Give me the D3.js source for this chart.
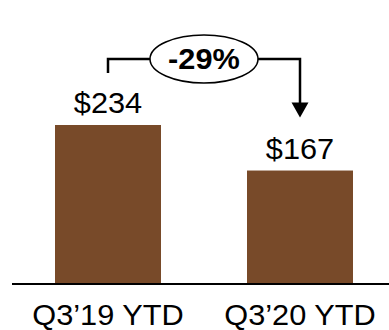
<!DOCTYPE html>
<html>
<head>
<meta charset="utf-8">
<script src="https://cdn.jsdelivr.net/npm/d3@7"></script>
<style>
  html, body { margin: 0; padding: 0; background: #fff; }
  svg { display: block; font-family: "Liberation Sans", Arial, sans-serif; }
</style>
</head>
<body>
<svg id="chart" width="389" height="330"></svg>
<script>
// Year-to-date totals by period
const categories = ["Q3\u201919 YTD", "Q3\u201920 YTD"];
const values = [234, 167];
const valueLabels = ["$234", "$167"];
const changeLabel = "-29%";

const svg = d3.select("#chart");
const barColor = "#784A29";

const x = d3.scaleBand()
  .domain(categories)
  .range([12, 396])
  .paddingInner(0.448)
  .paddingOuter(0.224);

const y = d3.scaleLinear()
  .domain([0, 234])
  .range([284, 125]);

// Bars
svg.selectAll("rect.bar")
  .data(values)
  .join("rect")
  .attr("class", "bar")
  .attr("x", (d, i) => x(categories[i]))
  .attr("y", d => y(d))
  .attr("width", x.bandwidth())
  .attr("height", d => y(0) - y(d))
  .attr("fill", barColor);

// Baseline
svg.append("line")
  .attr("x1", 12).attr("x2", 389)
  .attr("y1", y(0)).attr("y2", y(0))
  .attr("stroke", "#000").attr("stroke-width", 2);

// Slightly widened glyphs, scaled about each label's anchor
function widen(sel, cxFn, k) {
  sel.attr("transform", (d, i) => {
    const c = cxFn(d, i);
    return `translate(${c},0) scale(${k},1) translate(${-c},0)`;
  });
}

// Value labels above bars
const valueText = svg.selectAll("text.value")
  .data(values)
  .join("text")
  .attr("class", "value")
  .attr("x", (d, i) => x(categories[i]) + x.bandwidth() / 2)
  .attr("y", d => y(d) - 12)
  .attr("text-anchor", "middle")
  .attr("font-size", 29)
  .attr("fill", "#000")
  .text((d, i) => valueLabels[i]);
widen(valueText, (d, i) => x(categories[i]) + x.bandwidth() / 2, 1.06);

// Category labels
const catText = svg.selectAll("text.cat")
  .data(categories)
  .join("text")
  .attr("class", "cat")
  .attr("x", d => x(d) + x.bandwidth() / 2)
  .attr("y", 325)
  .attr("text-anchor", "middle")
  .attr("font-size", 29)
  .attr("fill", "#000")
  .text(d => d);
widen(catText, d => x(d) + x.bandwidth() / 2, 1.06);

// Change bracket with arrow
const cx0 = x(categories[0]) + x.bandwidth() / 2;
const cx1 = x(categories[1]) + x.bandwidth() / 2;
const bracketY = 59;
const arrowTip = y(values[1]) - 53;

svg.append("path")
  .attr("d", `M${cx0},${bracketY + 14}V${bracketY}H${cx1}V${arrowTip - 14}`)
  .attr("fill", "none")
  .attr("stroke", "#000")
  .attr("stroke-width", 2.5);

svg.append("path")
  .attr("d", `M${cx1 - 8.5},${arrowTip - 15}L${cx1 + 8.5},${arrowTip - 15}L${cx1},${arrowTip}Z`)
  .attr("fill", "#000");

const midX = (cx0 + cx1) / 2;
svg.append("ellipse")
  .attr("cx", midX).attr("cy", bracketY)
  .attr("rx", 54).attr("ry", 24)
  .attr("fill", "#fff")
  .attr("stroke", "#000")
  .attr("stroke-width", 1.5);

const changeText = svg.append("text")
  .attr("x", midX)
  .attr("y", bracketY + 10)
  .attr("text-anchor", "middle")
  .attr("font-size", 29)
  .attr("font-weight", "bold")
  .attr("fill", "#000")
  .text(changeLabel);
widen(changeText, () => midX, 1.06);
</script>
</body>
</html>
